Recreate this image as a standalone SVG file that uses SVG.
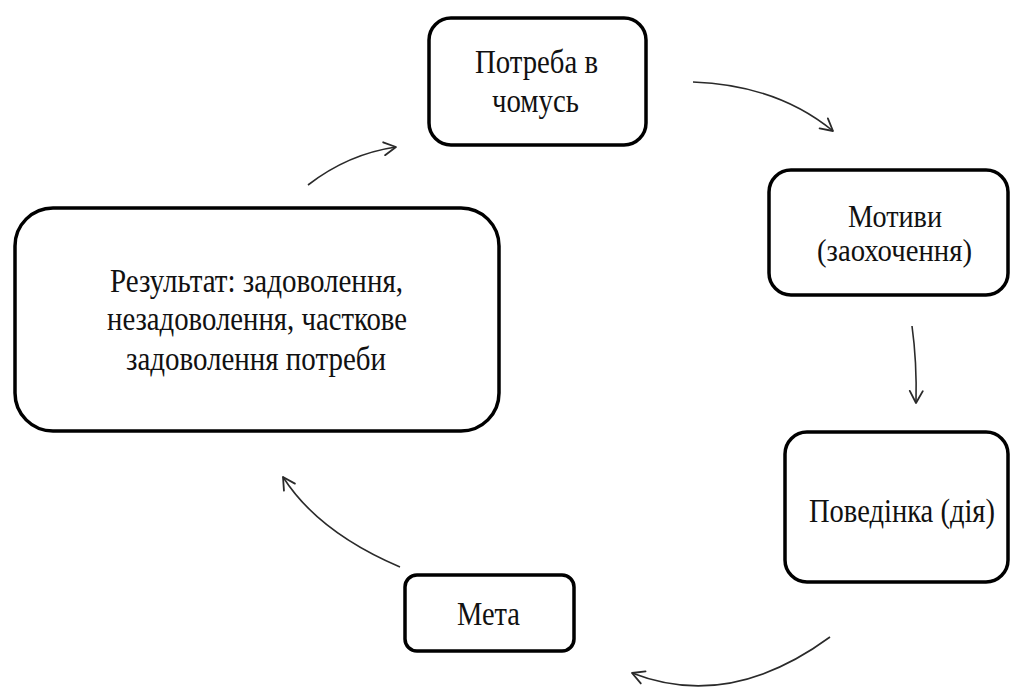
<svg xmlns="http://www.w3.org/2000/svg" width="1011" height="687" viewBox="0 0 1011 687">
  <style>
    .box { fill: #ffffff; stroke: #000000; stroke-width: 3.5; }
    .lbl { font-family: "Liberation Serif", "DejaVu Serif", "Times New Roman", serif; font-size: 34px; fill: #111111; text-anchor: middle; }
    .sm { font-size: 31px; }
    .conn { fill: none; stroke: #2a2a2a; stroke-width: 1.6; marker-end: url(#arrow); }
  </style>
  <defs>
    <marker id="arrow" markerUnits="userSpaceOnUse" markerWidth="16" markerHeight="16" viewBox="0 0 16 16" refX="14" refY="8" orient="auto">
      <path d="M2,1.5 L14,8 L2,14.5" fill="none" stroke="#2a2a2a" stroke-width="1.8" stroke-linecap="round" stroke-linejoin="round"/>
    </marker>
  </defs>
  <rect width="1011" height="687" fill="#ffffff"/>

  <g id="connectors">
    <path class="conn" d="M693,82 Q777,85 833,131"/>
    <path class="conn" d="M912,326 Q917,362 916,403"/>
    <path class="conn" d="M830,637 Q729,711 632,673"/>
    <path class="conn" d="M400,567 Q318,532 283,477"/>
    <path class="conn" d="M308,185 Q348,154 396,147"/>
  </g>

  <g id="node-need">
    <rect class="box" x="429" y="18" width="217" height="127" rx="22"/>
    <text class="lbl" x="536.5" y="73" textLength="123" lengthAdjust="spacingAndGlyphs">Потреба в</text>
    <text class="lbl" x="535.5" y="112" textLength="87" lengthAdjust="spacingAndGlyphs">чомусь</text>
  </g>

  <g id="node-motives">
    <rect class="box" x="769" y="170" width="239" height="125" rx="22"/>
    <text class="lbl sm" x="895" y="227" textLength="94" lengthAdjust="spacingAndGlyphs">Мотиви</text>
    <text class="lbl sm" x="894.5" y="261" textLength="155" lengthAdjust="spacingAndGlyphs">(заохочення)</text>
  </g>

  <g id="node-behaviour">
    <rect class="box" x="785" y="432" width="223" height="150" rx="22"/>
    <text class="lbl" x="902" y="522" textLength="186" lengthAdjust="spacingAndGlyphs">Поведінка (дія)</text>
  </g>

  <g id="node-goal">
    <rect class="box" x="405" y="575" width="169" height="76" rx="12"/>
    <text class="lbl" x="488.5" y="625" textLength="63" lengthAdjust="spacingAndGlyphs">Мета</text>
  </g>

  <g id="node-result">
    <rect class="box" x="15" y="208" width="484" height="223" rx="38"/>
    <text class="lbl" x="256.5" y="292" textLength="293" lengthAdjust="spacingAndGlyphs">Результат: задоволення,</text>
    <text class="lbl" x="257" y="330" textLength="300" lengthAdjust="spacingAndGlyphs">незадоволення, часткове</text>
    <text class="lbl" x="256" y="370" textLength="260" lengthAdjust="spacingAndGlyphs">задоволення потреби</text>
  </g>
</svg>
